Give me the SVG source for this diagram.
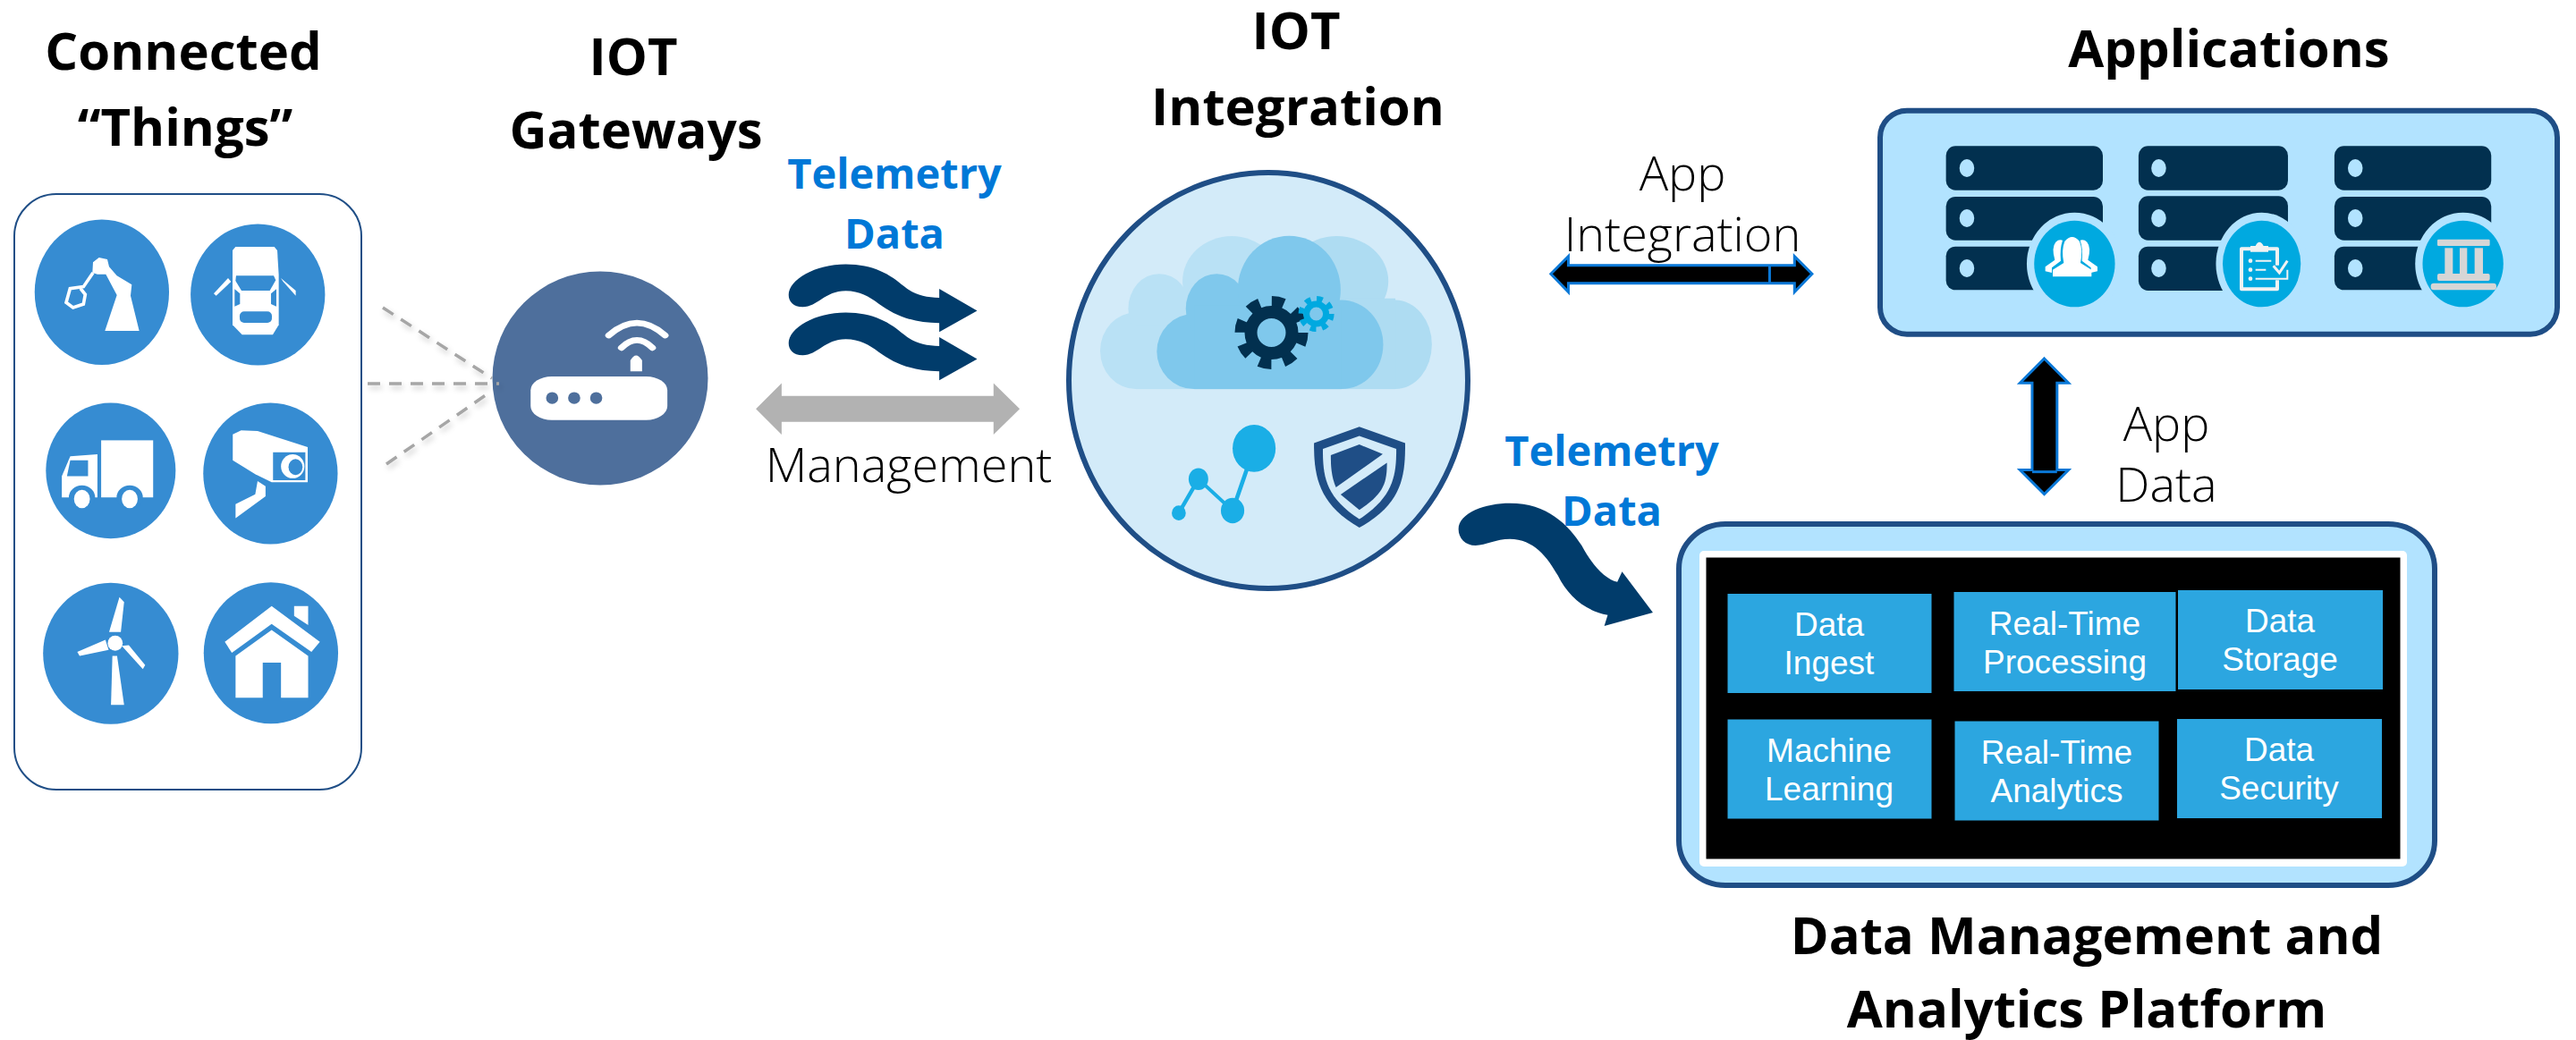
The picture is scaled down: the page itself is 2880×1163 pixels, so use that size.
<svg xmlns="http://www.w3.org/2000/svg" width="2880" height="1163" viewBox="0 0 2880 1163">
<style>
text{text-anchor:middle}
.title{font:700 58px "Open Sans","Liberation Sans",sans-serif;fill:#000}
.tele{font:700 47px "Open Sans","Liberation Sans",sans-serif;fill:#0078D7}
.light{font:300 54px "Open Sans","Liberation Sans",sans-serif;fill:#000}
.cell{font:37px "Liberation Sans",Arial,sans-serif;fill:#fff}
.w{fill:#fff}
.b{fill:#368CD2}
.srv{fill:#02304F}
.dot{fill:#B2E3FF}
.cellbox{fill:#2CA6E0}
.wave{fill:#013C6B}
.blk{fill:#000;stroke:#0A78D7;stroke-width:3;vector-effect:non-scaling-stroke}
.dash{stroke:#A6A6A6;stroke-width:3.5;stroke-dasharray:14 10;fill:none;filter:url(#sh)}
</style>
<defs>
<filter id="sh" filterUnits="userSpaceOnUse" x="380" y="320" width="210" height="230"><feDropShadow dx="2" dy="4" stdDeviation="3" flood-color="#000" flood-opacity=".2"/></filter>
<path id="wv" d="M118,470C118,425 175,380 240,380C300,380 335,410 365,445C385,468 410,478 440,478L440,452L521,516L440,578L440,552C385,552 345,530 310,495C290,475 270,458 240,458C195,458 180,505 148,505C128,505 118,490 118,470Z"/>
</defs>

<g id="things">
<rect x="16" y="217" width="388" height="666" rx="47" ry="47" fill="#fff" stroke="#1F4E86" stroke-width="2"/>
<g transform="translate(0,200) scale(.5236,.4464)">
<ellipse class="b" cx="217.500" cy="284" rx="143.500" ry="182"/>
<ellipse class="b" cx="550.500" cy="290" rx="143.500" ry="177"/>
<ellipse class="b" cx="236.500" cy="731" rx="138.500" ry="170"/>
<ellipse class="b" cx="577.500" cy="738" rx="143.500" ry="177"/>
<ellipse class="b" cx="236.500" cy="1189" rx="144.500" ry="177"/>
<ellipse class="b" cx="578.500" cy="1188" rx="143.500" ry="177"/>
<g>
<rect class="w" x="216" y="655" width="111" height="143"/>
<polygon class="w" points="132,745 150,695 208,690 208,798 132,798"/>
<polygon class="b" points="150,705 188,705 188,745 143,745"/>
<ellipse class="b" cx="175" cy="798" rx="28" ry="30"/><ellipse class="w" cx="175" cy="802" rx="17" ry="23"/>
<ellipse class="b" cx="277" cy="798" rx="28" ry="30"/><ellipse class="w" cx="277" cy="802" rx="17" ry="23"/>
</g>
<g>
<polygon class="w" points="497,640 515,630 550,632 657,672 657,760 580,760 545,740 497,705"/>
<rect class="b" x="583" y="685" width="69" height="70"/>
<ellipse class="w" cx="625" cy="720" rx="25" ry="30"/><ellipse class="b" cx="631" cy="722" rx="15" ry="20"/>
<polygon class="w" points="503,815 545,790 550,757 567,770 567,795 503,850"/>
</g>
<g>
<ellipse class="w" cx="246" cy="1163" rx="16" ry="19"/>
<polygon class="w" points="240,1195 250,1195 265,1318 237,1318"/>
<polygon class="w" points="233,1135 255,1048 265,1060 258,1135"/>
<polygon class="w" points="165,1185 225,1155 232,1180 170,1195"/>
<polygon class="w" points="260,1170 275,1168 310,1218 305,1228"/>
</g>
<g>
<polygon class="w" points="480,1160 580,1070 683,1160 665,1185 580,1115 495,1187"/>
<polygon class="w" points="628,1070 658,1070 658,1118 628,1095"/>
<polygon class="w" points="503,1195 580,1130 658,1195 658,1300 600,1300 600,1212 561,1212 561,1300 503,1300"/>
</g>
</g>
<g transform="translate(40,240) scale(.3333)">
<polygon class="w" points="232,390 347,390 318,272 322,235 272,205 246,175 240,150 212,144 192,160 190,195 207,200 235,200 272,270"/>
<path d="M192,195L160,242L115,248L102,295L125,312L160,300L166,268L150,248" fill="none" stroke="#fff" stroke-width="11"/>
<path class="w" d="M670,108H800L810,120L815,200V370L795,403H692L660,370V200L660,120Z"/>
<path class="b" d="M672,205H798L805,220L785,255H690L670,222Z"/>
<rect class="b" x="684" y="325" width="108" height="38" rx="15"/>
<polygon class="b" points="667,250 685,265 685,300 667,308"/>
<polygon class="b" points="807,250 789,265 789,300 807,308"/>
<polygon class="w" points="597,265 645,213 655,225 605,272"/>
<polygon class="w" points="822,213 872,255 872,272 830,225"/>
</g>
<text class="title" x="205" y="78">Connected</text>
<text class="title" x="207" y="163">“Things”</text>
</g>

<g id="gateway">
<ellipse cx="671" cy="423" rx="120.500" ry="119.500" fill="#4E6F9C"/>
<g transform="translate(0,200) scale(.5236,.4464)">
<rect class="w" x="1133" y="495" width="292" height="109" rx="45" ry="35"/>
<ellipse fill="#4E6F9C" cx="1179" cy="549" rx="13" ry="15"/><ellipse fill="#4E6F9C" cx="1226" cy="549" rx="13" ry="15"/><ellipse fill="#4E6F9C" cx="1273" cy="549" rx="13" ry="15"/>
<path class="w" d="M1346,482V455Q1358,430 1371,455V482Z"/>
<path d="M1300,392Q1360,330 1420,392M1327,423Q1360,385 1393,423" fill="none" stroke="#fff" stroke-width="15" stroke-linecap="round"/>
</g>
<text class="title" x="708" y="84">IOT</text>
<text class="title" x="711" y="166">Gateways</text>
</g>

<g id="integration">
<ellipse cx="1418" cy="425.500" rx="223" ry="232.500" fill="#D3EBF9" stroke="#1F4E86" stroke-width="6"/>
<g transform="translate(820,150) scale(.523,.3827)">
<g fill="#B9E1F5"><ellipse cx="860" cy="633" rx="76" ry="112"/><ellipse cx="910" cy="510" rx="66" ry="102"/><ellipse cx="1065" cy="430" rx="105" ry="132"/><rect x="860" y="560" width="300" height="185"/></g>
<g fill="#AEDCF2"><ellipse cx="1290" cy="430" rx="110" ry="132"/><ellipse cx="1415" cy="615" rx="78" ry="130"/><rect x="1160" y="480" width="255" height="265"/></g>
<g fill="#7FC8EC"><ellipse cx="985" cy="635" rx="80" ry="110"/><ellipse cx="1033" cy="510" rx="66" ry="102"/><ellipse cx="1188" cy="455" rx="110" ry="158"/><ellipse cx="1300" cy="615" rx="89" ry="130"/><rect x="985" y="500" width="315" height="245"/></g>
<path d="M952,1107L994,1008L1067,1100L1113,918" fill="none" stroke="#1AAEE6" stroke-width="9"/>
<g fill="#1AAEE6"><ellipse cx="952" cy="1107" rx="15" ry="22"/><ellipse cx="994" cy="1008" rx="21" ry="32"/><ellipse cx="1067" cy="1100" rx="25" ry="37"/><ellipse cx="1113" cy="918" rx="46" ry="69"/></g>
<path fill="#1F4E86" d="M1338,855L1436,903C1436,1000 1430,1080 1338,1150C1250,1080 1241,1000 1241,903Z"/>
<path fill="#D3EBF9" d="M1338,882L1417,920C1417,1000 1410,1060 1338,1125C1265,1060 1260,1000 1260,920Z"/>
<path fill="#1F4E86" d="M1338,907L1388,935L1288,1032C1278,1000 1277,970 1277,938Z"/>
<path fill="#1F4E86" d="M1397,960C1397,1020 1390,1050 1338,1098L1298,1053Z"/>
</g>
<circle cx="1421.500" cy="372" r="35" fill="none" stroke="#02304F" stroke-width="12" stroke-dasharray="13.750 13.750"/>
<circle cx="1421.500" cy="372" r="23" fill="none" stroke="#02304F" stroke-width="14"/>
<circle cx="1471.600" cy="351" r="17" fill="none" stroke="#00A9E0" stroke-width="6" stroke-dasharray="6.700 6.650"/>
<circle cx="1471.600" cy="351" r="11" fill="none" stroke="#00A9E0" stroke-width="7"/>
<text class="title" x="1449" y="55">IOT</text>
<text class="title" x="1451" y="140">Integration</text>
</g>

<g id="applications">
<rect x="2102" y="123.700" width="757" height="250" rx="30" ry="30" fill="#B2E3FF" stroke="#1F4E86" stroke-width="6"/>
<g transform="translate(1700,100) scale(.7526,.3333)">
<g class="srv">
<rect x="632" y="190" width="233" height="148" rx="14" ry="32"/><rect x="632" y="360" width="233" height="146" rx="14" ry="32"/><rect x="632" y="527" width="233" height="146" rx="14" ry="32"/>
<rect x="918" y="190" width="222" height="148" rx="14" ry="32"/><rect x="918" y="358" width="222" height="148" rx="14" ry="32"/><rect x="918" y="527" width="222" height="148" rx="14" ry="32"/>
<rect x="1209" y="190" width="233" height="148" rx="14" ry="32"/><rect x="1209" y="360" width="233" height="146" rx="14" ry="32"/><rect x="1209" y="527" width="233" height="146" rx="14" ry="32"/>
</g>
<g class="dot">
<ellipse cx="663" cy="264" rx="11" ry="30"/><ellipse cx="663" cy="432" rx="11" ry="30"/><ellipse cx="663" cy="600" rx="11" ry="30"/>
<ellipse cx="948" cy="264" rx="11" ry="30"/><ellipse cx="948" cy="432" rx="11" ry="30"/><ellipse cx="948" cy="600" rx="11" ry="30"/>
<ellipse cx="1240" cy="264" rx="11" ry="30"/><ellipse cx="1240" cy="432" rx="11" ry="30"/><ellipse cx="1240" cy="600" rx="11" ry="30"/>
<ellipse cx="823" cy="585" rx="71" ry="172"/><ellipse cx="1101" cy="585" rx="68" ry="172"/><ellipse cx="1400" cy="585" rx="71" ry="172"/>
</g>
<g fill="#00A9E0"><ellipse cx="823" cy="585" rx="60" ry="145"/><ellipse cx="1101" cy="585" rx="58" ry="145"/><ellipse cx="1400" cy="585" rx="60" ry="145"/></g>
</g>
<g transform="translate(2250,220) scale(.3333)">
<path class="w" d="M135,268V245L172,222Q163,180 175,150Q200,120 225,150Q237,180 228,222L265,245V268Z"/>
<path class="w" d="M110,250V235L142,212Q130,170 145,152Q155,142 168,146Q158,175 162,215L132,238V255Z"/>
<path class="w" d="M285,250V235L253,212Q265,170 250,152Q240,142 227,146Q237,175 233,215L263,238V255Z"/>
</g>
<g transform="translate(2500,100) scale(.3333)">
<path d="M138,590V535H18V670H138V640" fill="none" stroke="#F2F2F2" stroke-width="12" stroke-linejoin="round"/>
<path d="M48,545V525H65Q78,500 92,525H108V545Z" fill="#F2F2F2"/>
<g fill="#F2F2F2"><circle cx="48" cy="575" r="7"/><circle cx="48" cy="605" r="7"/><circle cx="48" cy="635" r="7"/></g>
<path d="M65,575H118M65,605H100M65,635H172V605" fill="none" stroke="#F2F2F2" stroke-width="6"/>
<path d="M125,592L145,615L172,575" fill="none" stroke="#F2F2F2" stroke-width="9"/>
<g fill="#D6D6D6">
<rect x="675" y="503" width="176" height="22" rx="4"/>
<rect x="700" y="532" width="27" height="88"/><rect x="750" y="532" width="25" height="88"/><rect x="800" y="532" width="28" height="88"/>
<rect x="675" y="618" width="176" height="24" rx="6"/>
<rect x="653" y="650" width="220" height="23" rx="10"/>
</g>
</g>
<text class="title" x="2492" y="75">Applications</text>
</g>

<g id="platform">
<rect x="1877" y="586" width="845" height="404" rx="52" ry="50" fill="#B2E3FF" stroke="#1F4E86" stroke-width="6"/>
<rect x="1900" y="616" width="791" height="353" rx="5" fill="#fff"/>
<rect x="1907.500" y="623.500" width="776" height="337" fill="#000"/>
<g id="data-ingest"><rect class="cellbox" x="1931.500" y="664" width="228" height="111"/><text class="cell" x="2045" y="711">Data</text><text class="cell" x="2045" y="754">Ingest</text></g>
<g id="rt-processing"><rect class="cellbox" x="2184.500" y="662" width="248" height="111"/><text class="cell" x="2308.500" y="710">Real-Time</text><text class="cell" x="2308.500" y="753">Processing</text></g>
<g id="data-storage"><rect class="cellbox" x="2435" y="660" width="229" height="111"/><text class="cell" x="2549" y="707">Data</text><text class="cell" x="2549" y="750">Storage</text></g>
<g id="machine-learning"><rect class="cellbox" x="1931.500" y="804.500" width="228" height="111"/><text class="cell" x="2045" y="852">Machine</text><text class="cell" x="2045" y="895">Learning</text></g>
<g id="rt-analytics"><rect class="cellbox" x="2185.500" y="806.500" width="228" height="111"/><text class="cell" x="2299.500" y="854">Real-Time</text><text class="cell" x="2299.500" y="897">Analytics</text></g>
<g id="data-security"><rect class="cellbox" x="2434" y="804" width="229" height="111"/><text class="cell" x="2548" y="851">Data</text><text class="cell" x="2548" y="894">Security</text></g>
<text class="title" x="2333" y="1067">Data Management and</text>
<text class="title" x="2333" y="1149">Analytics Platform</text>
</g>

<g id="connectors">
<path class="dash" d="M428,344L550,423"/>
<path class="dash" d="M411,429L558,429"/>
<path class="dash" d="M432,519L550,437"/>
<g transform="translate(820,150) scale(.523,.3827)">
<use href="#wv" class="wave"/>
<use href="#wv" class="wave" y="141"/>
<polygon fill="#B2B2B2" points="48,803 103,728 103,765 556,765 556,728 612,803 556,878 556,841 103,841 103,878"/>
</g>
<g transform="translate(1700,100) scale(.7526,.3333)">
<polygon class="blk" points="45,619 71,560 71,590 407,590 407,560 433,619 407,680 407,650 71,650 71,680"/>
<path d="M370,590V650" stroke="#0A78D7" stroke-width="3" vector-effect="non-scaling-stroke"/>
<polygon class="blk" points="778,903 814,985 797,985 797,1277 814,1277 778,1358 742,1277 760,1277 760,985 742,985"/>
<path d="M760,1283H797" stroke="#0A78D7" stroke-width="3" vector-effect="non-scaling-stroke"/>
</g>
<path class="wave" transform="translate(1600,560) scale(.7653,.3333)" d="M40,95C40,40 80,8 115,8C170,8 200,80 220,150C235,215 255,265 272,272L279,238L324,375L253,420L258,383C225,370 200,320 185,250C170,190 150,128 115,128C95,128 80,148 65,150C50,150 40,125 40,95Z"/>
</g>

<g id="labels">
<text class="tele" x="1000" y="211">Telemetry</text>
<text class="tele" x="1000" y="278">Data</text>
<text class="light" x="1016" y="539">Management</text>
<text class="light" x="1881" y="213">App</text>
<text class="light" x="1881" y="281">Integration</text>
<text class="light" x="2422" y="493">App</text>
<text class="light" x="2422" y="561">Data</text>
<text class="tele" x="1802" y="521">Telemetry</text>
<text class="tele" x="1802" y="588">Data</text>
</g>
</svg>
